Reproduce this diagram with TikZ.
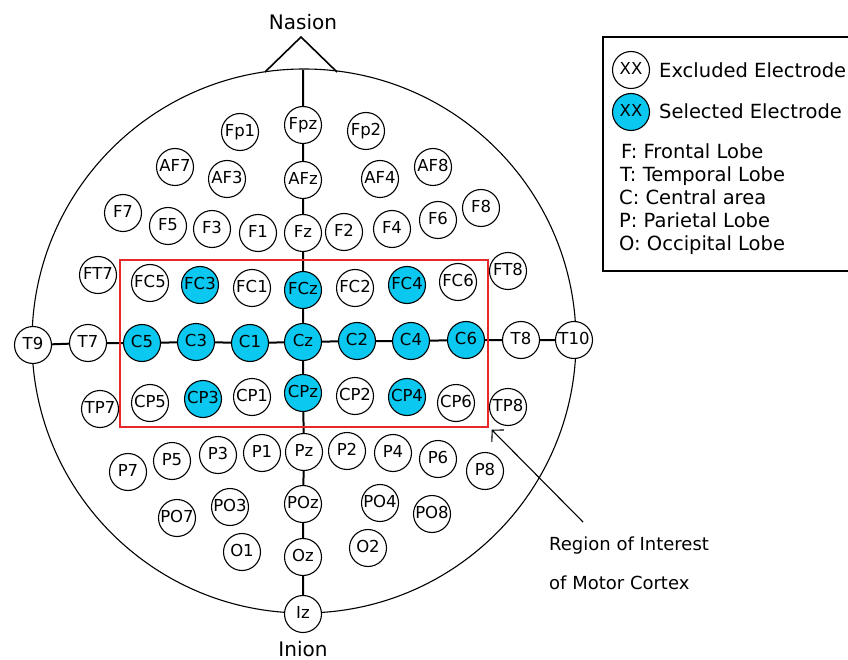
\documentclass[tikz,border=0pt]{standalone}
\usepackage{fontspec}
\setmainfont{DejaVu Sans}
\usetikzlibrary{arrows.meta}

\definecolor{selcyan}{RGB}{10,200,240}
\definecolor{roired}{RGB}{230,40,40}

\tikzset{
	electrode/.style={circle, draw, line width=1.1pt, fill=white, minimum size=37pt,
		inner sep=0pt, text height=1.5ex, text depth=0pt, font=\fontsize{16.5}{16.5}\selectfont},
	selected/.style={electrode, fill=selcyan},
	link/.style={line width=2pt},
	legendtext/.style={anchor=base west, inner sep=0pt, font=\fontsize{19.5}{20}\selectfont},
}

\begin{document}
\begin{tikzpicture}[x=1pt, y=-1pt]
	\useasboundingbox (0,0) rectangle (848,660);
	\clip (0,0) rectangle (848,660);
	
	% Head and nose
	\draw[line width=1.1pt] (304,341) circle (272pt);
	\draw[line width=1.6pt] (265,72) -- (301,37) -- (337,72);
	\coordinate (top) at (303,70);
	\node[inner sep=0pt, font=\fontsize{20}{20}\selectfont] (nasion) at (303,22) {Nasion};
	\node[inner sep=0pt, font=\fontsize{20}{20}\selectfont] (inion) at (303,649) {Inion};
	
	% Electrodes (10-10 system)
	\foreach \name/\x/\y in {Fp1/240/132, Fpz/303/125, Fp2/366/131,
		AF7/175/167, AF3/227/179, AFz/303/180, AF4/380/179, AF8/433/167,
		F7/123/213, F5/168/226, F3/212/229, F1/258/233, Fz/303/233, F2/344/232,
		F4/392/229, F6/438/220, F8/481/208,
		FT7/98/275, FC5/150/283, FC1/252/288, FC2/355/288, FC6/458/282, FT8/508/271,
		T9/33/345, T7/88/343, T8/521/340, T10/574/340,
		TP7/100/409, CP5/150/403, CP1/252/397, CP2/355/396, CP6/456/403, TP8/508/407,
		P7/128/472, P5/172/461, P3/218/455, P1/262/453, Pz/304/452, P2/347/451,
		P4/393/453, P6/438/459, P8/485/471,
		PO7/177/518, PO3/230/507, POz/303/504, PO4/380/503, PO8/432/514,
		O1/242/552, Oz/303/557, O2/368/548, Iz/303/614}
	\node[electrode] (\name) at (\x,\y) {\name};
	
	\foreach \name/\x/\y in {FC3/200/285, FCz/303/290, FC4/407/285,
		C5/142/343, C3/196/342, C1/250/343, Cz/303/342, C2/357/341, C4/411/341, C6/466/340,
		CP3/203/399, CPz/303/393, CP4/407/397}
	\node[selected] (\name) at (\x,\y) {\name};
	
	% Midline and central line
	\draw[link] (top) -- (Fpz) -- (AFz) -- (Fz) -- (FCz) -- (Cz) -- (CPz) -- (Pz)
		-- (POz) -- (Oz) -- (Iz);
	\draw[link] (T9) -- (T7) -- (C5) -- (C3) -- (C1) -- (Cz) -- (C2) -- (C4) -- (C6)
		-- (T8) -- (T10);
	
	% Region of interest
	\node[draw=roired, line width=1.4pt, minimum width=368pt, minimum height=167pt,
		inner sep=0pt] (roi) at (304,343.5) {};
	\coordinate (roitail) at (583,522);
	\draw[line width=1.1pt, -{Straight Barb[length=8pt, width=17pt]}] (roitail)
		-- ([shift={(3pt,-2pt)}]roi.south east);
	\node[anchor=base west, inner sep=0pt, font=\fontsize{18}{20}\selectfont]
		(roilabel) at (549,550) {Region of Interest};
	\node[anchor=base west, inner sep=0pt, font=\fontsize{18}{20}\selectfont]
		(roilabel2) at (549,589) {of Motor Cortex};
	
	% Legend
	\draw[line width=1.5pt] (603,37) rectangle (880,271);
	\node[electrode] (legex) at (631,70) {XX};
	\node[selected] (legsel) at (631,112) {XX};
	\node[legendtext] at (659,78) {Excluded Electrode};
	\node[legendtext] at (659,119) {Selected Electrode};
	\node[legendtext] at (621,159) {F: Frontal Lobe};
	\node[legendtext] at (620,182) {T: Temporal Lobe};
	\node[legendtext] at (619,205) {C: Central area};
	\node[legendtext] at (619,228) {P: Parietal Lobe};
	\node[legendtext] at (619,251) {O: Occipital Lobe};
\end{tikzpicture}
\end{document}
